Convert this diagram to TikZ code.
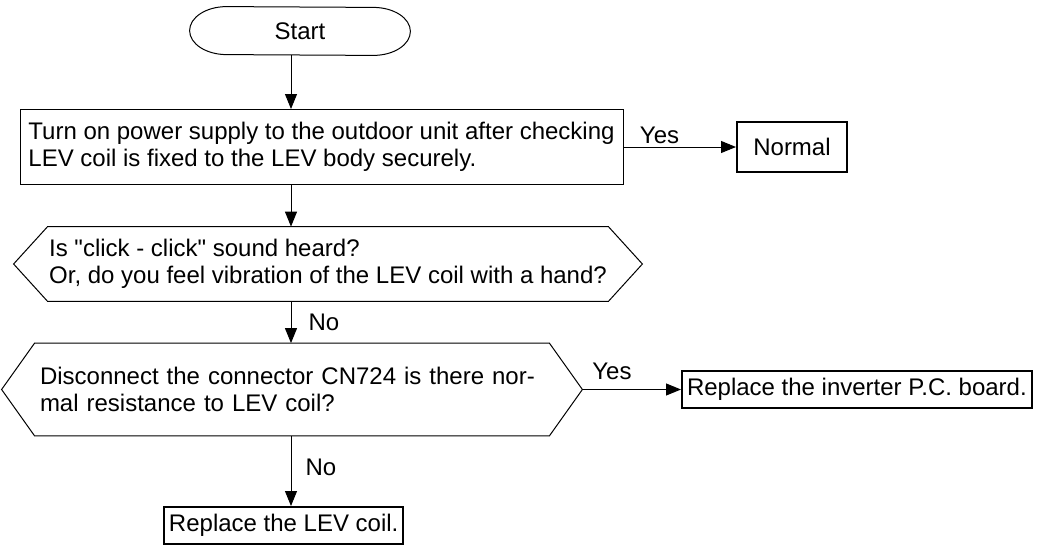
\documentclass[tikz,border=0pt]{standalone}
\usepackage{fontspec}
\setmainfont{Liberation Sans}
\usetikzlibrary{arrows.meta, positioning, calc}
\tikzset{
	txt/.style={font=\fontsize{12}{13.5}\selectfont},
	terminal/.style={rectangle, draw=none, minimum width=73pt, minimum height=24pt, txt},
	process/.style={rectangle, draw=black, line width=0.5pt, align=left, txt},
	result/.style={rectangle, draw=black, line width=1pt, align=left, inner xsep=2.5pt, inner ysep=1pt, minimum height=18.5pt, txt},
	query/.style={rectangle, draw=none, align=left, inner xsep=0pt, txt},
	arrow/.style={-{Triangle[length=7.5pt, width=6pt]}, line width=0.5pt, draw=black},
	lbl/.style={inner sep=1.5pt, txt},
}
\newcommand{\hexframe}[2]{\draw[line width=0.5pt] (#1.north west) -- (#1.north east) -- ([xshift=#2]#1.east) -- (#1.south east) -- (#1.south west) -- ([xshift=-#2]#1.west) -- cycle;}
\newcommand{\capframe}[2]{\draw[line width=0.5pt] (#1.north west) arc[start angle=90, end angle=270, x radius=#2, y radius=12pt] -- (#1.south east) arc[start angle=-90, end angle=90, x radius=#2, y radius=12pt] -- cycle;}

\begin{document}
\begin{tikzpicture}[x=0.5pt, y=-0.5pt]
	\useasboundingbox (0,0) rectangle (1041,552);
	\coordinate (spine) at (291,0);
	\node[terminal] (start) at (300,31) {Start};
	\capframe{start}{18.5pt}
	\node[process, minimum width=301.5pt, minimum height=37.5pt] (power) at (321.5,147) {Turn on power supply to the outdoor unit after checking\\LEV coil is fixed to the LEV body securely.};
	\node[result, minimum width=55pt, minimum height=25pt, align=center] (normal) at (792,147) {Normal};
	\node[query, minimum width=280pt, minimum height=37pt] (sound) at (328,264) {Is \textquotedbl click - click\textquotedbl{} sound heard?\\Or, do you feel vibration of the LEV coil with a hand?};
	\hexframe{sound}{17pt}
	\node[query, text width=252pt, minimum width=257pt, minimum height=46pt] (check) at (292,389.5) {Disconnect the connector CN724 is there nor-\\mal resistance to LEV coil?};
	\hexframe{check}{16.5pt}
	\coordinate (check tip) at ([xshift=16.5pt]check.east);
	\node[result, anchor=west] (board) at (681,389.5) {Replace the inverter P.C. board.};
	\node[result, anchor=west] (coil) at (163,525.5) {Replace the LEV coil.};

	\draw[arrow] (start.south -| spine) -- (power.north -| spine);
	\draw[arrow] (power.south -| spine) -- (sound.north -| spine);
	\draw[arrow] (sound.south -| spine) -- node[lbl, right=7pt] {No} (check.north -| spine);
	\draw[arrow] (check.south -| spine) -- node[lbl, right=5.5pt, pos=0.45] {No} (coil.north -| spine);
	\draw[arrow] (power.east) -- node[lbl, above, pos=0.32] {Yes} (normal.west);
	\draw[arrow] (check tip) -- node[lbl, above=3pt, pos=0.3] {Yes} (board.west);
\end{tikzpicture}
\end{document}
